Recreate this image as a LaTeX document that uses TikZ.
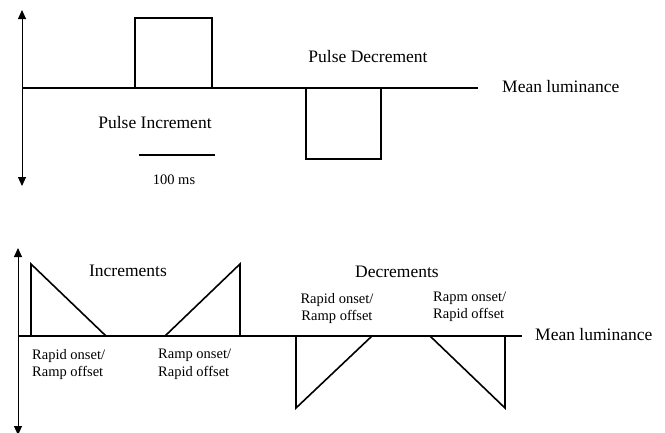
\documentclass[tikz,border=0pt]{standalone}
\usepackage{fontspec}
\setmainfont{Liberation Serif}
\usepackage{tikz}
\usetikzlibrary{arrows.meta,positioning}

\begin{document}
\begin{tikzpicture}[x=1pt,y=-1pt,
    axis/.style={line width=1pt, {Triangle[length=9pt,width=8pt]}-{Triangle[length=9pt,width=8pt]}},
    base/.style={line width=1.1pt},
    wave/.style={line width=1.6pt, line join=miter},
    big/.style={font=\fontsize{17.5}{20}\selectfont, inner sep=0pt},
    small/.style={font=\fontsize{14.5}{17.5}\selectfont, inner sep=0pt, align=left}]
    \useasboundingbox (0,0) rectangle (665,432);

    % Top panel: pulses
    \draw[axis] (22,10) -- (22,186);
    \draw[base] (22,88) -- (478,88);
    \draw[wave] (135,88) -- (135,18) -- (212,18) -- (212,88); % increment
    \draw[wave] (306,88) -- (306,159) -- (381,159) -- (381,88); % decrement
    \draw[base] (139,155) -- (215,155); % time bar

    \node[big] (pinc) at (155,123) {Pulse Increment};
    \node[big] (pdec) at (368,57) {Pulse Decrement};
    \node[big, anchor=west] (mean1) at (502,87) {Mean luminance};
    \node[small] (bar) at (174,180) {100 ms};

    % Bottom panel: ramps
    \draw[axis] (18,248) -- (18,435);
    \draw[base] (18,336) -- (522,336);
    \draw[wave] (31,336) -- (31,264) -- (106,336) -- cycle;
    \draw[wave] (165,336) -- (240,264) -- (240,336) -- cycle;
    \draw[wave] (296,336) -- (296,408) -- (372,336) -- cycle;
    \draw[wave] (430,336) -- (505,408) -- (505,336) -- cycle;

    \node[big] (inc) at (128,271) {Increments};
    \node[big] (dec) at (397,272) {Decrements};
    \node[big, anchor=west] (mean2) at (535,335) {Mean luminance};
    \node[small, anchor=north west] (ra1) at (32,349) {Rapid onset/\\Ramp offset};
    \node[small, anchor=north west] (ra2) at (158,349) {Ramp onset/\\Rapid offset};
    \node[small, anchor=south, align=center] (ra3) at (337,324) {Rapid onset/\\ Ramp offset};
    \node[small, anchor=south west] (ra4) at (433,322) {Rapm onset/\\Rapid offset};
\end{tikzpicture}
\end{document}
